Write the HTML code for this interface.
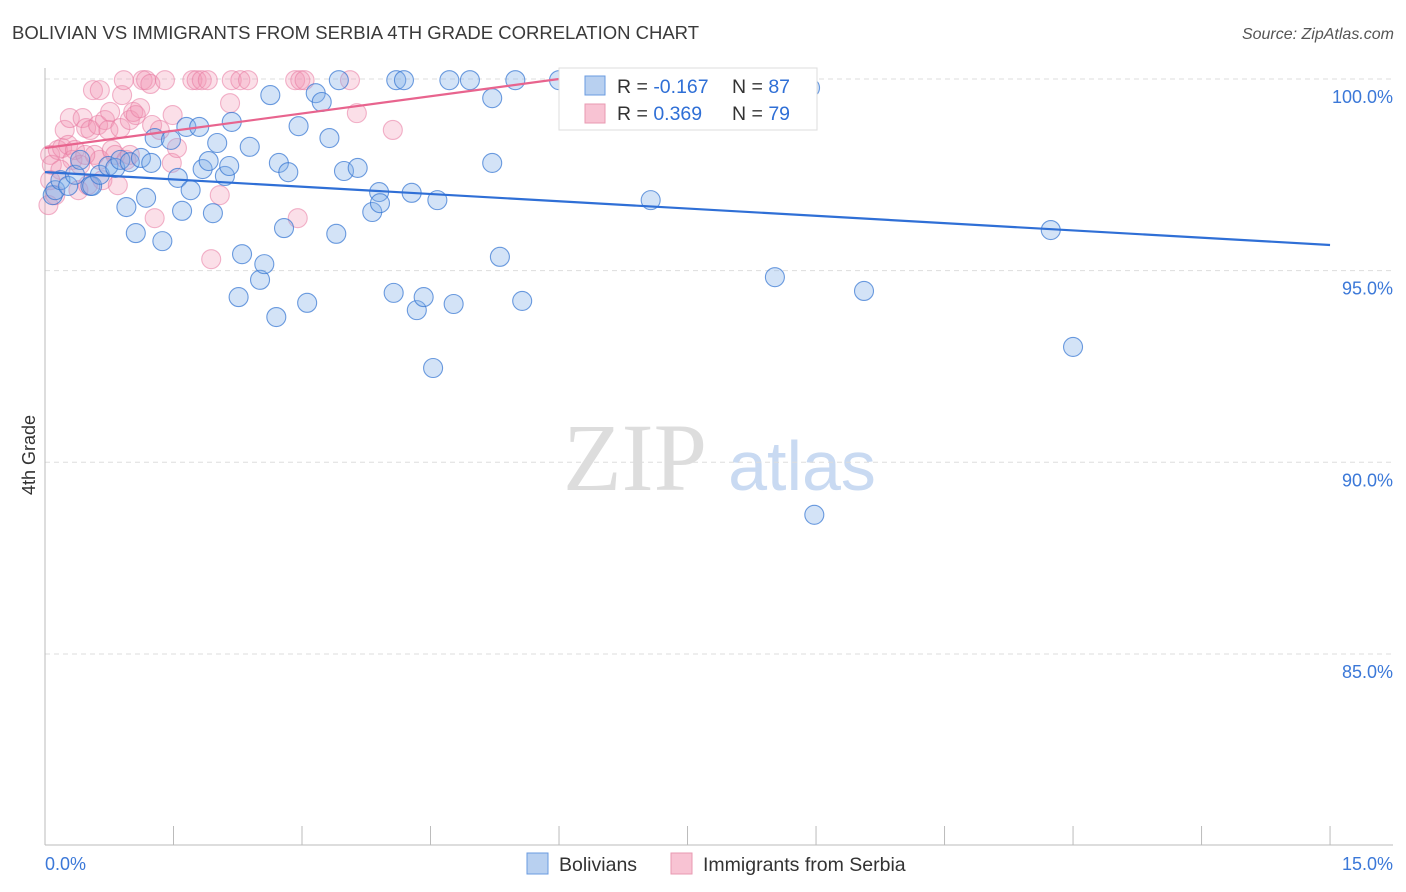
<!DOCTYPE html>
<html><head><meta charset="utf-8"><style>
body{margin:0;background:#fff;font-family:"Liberation Sans",sans-serif}
svg{display:block}
</style></head><body>
<svg id="chart" width="1406" height="892">
<text x="12" y="39" font-size="18.5" fill="#3a3a3a">BOLIVIAN VS IMMIGRANTS FROM SERBIA 4TH GRADE CORRELATION CHART</text>
<text x="1394" y="39" font-size="16" fill="#555" text-anchor="end" font-style="italic">Source: ZipAtlas.com</text>
<text x="35" y="455" font-size="18" fill="#333" text-anchor="middle" transform="rotate(-90 35 455)">4th Grade</text>
<g>
<text x="635" y="490" font-size="96" fill="#ddd" text-anchor="middle" font-family="Liberation Serif,serif">ZIP</text>
<text x="802" y="490" font-size="70" fill="#c9daf2" text-anchor="middle">atlas</text>
</g>
<g id="grid"></g><g id="axes"></g><g id="pts"></g><g id="lines"></g>
<g>
<rect x="559" y="68" width="258" height="62" fill="#fff" stroke="#ddd"/>
<rect x="585" y="76" width="20" height="19" fill="#b8d0f0" stroke="#6a9be0"/>
<rect x="585" y="104" width="20" height="19" fill="#f8c3d3" stroke="#e899b2"/>
<text x="617" y="93" font-size="19.5" fill="#333">R = <tspan fill="#2f6fd6">-0.167</tspan></text>
<text x="732" y="93" font-size="19.5" fill="#333">N = <tspan fill="#2f6fd6">87</tspan></text>
<text x="617" y="120" font-size="19.5" fill="#333">R = <tspan fill="#2f6fd6"> 0.369</tspan></text>
<text x="732" y="120" font-size="19.5" fill="#333">N = <tspan fill="#2f6fd6">79</tspan></text>
</g>
<g>
<rect x="527" y="853" width="21" height="21" fill="#b8d0f0" stroke="#6a9be0"/>
<text x="559" y="871" font-size="19.5" fill="#333">Bolivians</text>
<rect x="671" y="853" width="21" height="21" fill="#f8c3d3" stroke="#e899b2"/>
<text x="703" y="871" font-size="19.5" fill="#333">Immigrants from Serbia</text>
</g>
</svg>
<script>
const yTicks=[100,95,90,85];
const yTickLabels=["100.0%","95.0%","90.0%","85.0%"];
const xTickVals=[0,1.5,3,4.5,6,7.5,9,10.5,12,13.5,15];
const blueX=[0.09,0.12,0.18,0.27,0.35,0.41,0.53,0.55,0.64,0.74,0.82,0.88,0.99,0.95,1.06,1.12,1.18,1.24,1.28,1.37,1.47,1.55,1.60,1.65,1.70,1.80,1.84,1.91,1.96,2.01,2.10,2.15,2.18,2.26,2.30,2.39,2.51,2.56,2.63,2.70,2.73,2.79,2.84,2.96,3.06,3.16,3.23,3.32,3.40,3.43,3.49,3.65,3.82,3.90,3.91,4.07,4.10,4.19,4.28,4.34,4.42,4.53,4.58,4.72,4.77,4.96,5.22,5.22,5.31,5.49,5.57,6.00,6.44,7.07,7.32,8.09,8.52,8.93,8.98,9.56,11.74,12.00];
const blueY=[96.97,97.10,97.36,97.21,97.50,97.89,97.21,97.21,97.50,97.73,97.68,97.89,97.83,96.66,95.98,97.94,96.90,97.81,98.46,95.77,98.41,97.42,96.56,98.75,97.10,98.75,97.65,97.86,96.50,98.33,97.47,97.73,98.88,94.31,95.43,98.23,94.76,95.17,99.58,93.79,97.81,96.11,97.57,98.77,94.16,99.63,99.40,98.46,95.96,99.97,97.60,97.68,96.53,97.05,96.76,94.42,99.97,99.97,97.03,93.97,94.31,92.46,96.84,99.97,94.13,99.97,99.50,97.81,95.36,99.97,94.21,99.97,99.90,96.84,99.97,99.97,94.83,99.77,88.63,94.47,96.06,93.01];
const pinkX=[0.04,0.06,0.08,0.12,0.15,0.20,0.23,0.27,0.29,0.32,0.35,0.39,0.41,0.44,0.48,0.50,0.53,0.56,0.58,0.62,0.64,0.67,0.70,0.74,0.76,0.78,0.82,0.85,0.88,0.90,0.92,0.95,0.99,1.03,1.06,1.11,1.14,1.18,1.23,1.25,1.28,1.34,1.40,1.48,1.49,1.54,1.72,1.77,1.83,1.90,2.04,2.16,2.18,2.28,2.37,2.92,2.98,2.95,3.03,3.56,3.64,4.06,1.94,0.47,0.18,0.64,0.99,0.06,6.83,8.49];
const pinkY=[96.71,98.02,97.76,96.97,98.15,98.20,98.67,98.28,98.98,97.89,98.15,97.10,97.76,98.98,98.72,97.23,98.67,99.71,98.02,98.80,97.89,97.36,98.93,98.67,99.14,98.15,98.02,97.23,98.72,99.58,99.97,97.89,98.93,99.14,99.06,99.24,99.97,99.97,99.87,98.80,96.37,98.67,99.97,97.81,99.06,98.20,99.97,99.97,99.97,99.97,96.97,99.37,99.97,99.97,99.97,99.97,99.97,96.37,99.97,99.97,99.11,98.67,95.30,98.02,97.63,99.71,98.02,97.36,99.97,99.97];
const blueTrend=[[0,97.57],[15,95.67]];
const pinkTrend=[[0,98.2],[6.0,100.0]];

const NS="http://www.w3.org/2000/svg";
const X=v=>45+v*85.67, Y=v=>79+(100-v)*38.33;
function mk(tag,attrs,parent){const e=document.createElementNS(NS,tag);for(const k in attrs)e.setAttribute(k,attrs[k]);parent.appendChild(e);return e;}
const grid=document.getElementById('grid'),axes=document.getElementById('axes'),pts=document.getElementById('pts'),lines=document.getElementById('lines');
yTicks.forEach((t,i)=>{
 const l=mk('line',{x1:45,x2:1393,y1:Y(t),y2:Y(t),stroke:'#ddd','stroke-dasharray':'5,4'},grid);
 
 
 const tx=mk('text',{x:1393,y:Y(t)+24,'font-size':18,fill:'#3b78d8','text-anchor':'end'},axes);
 tx.textContent=yTickLabels[i];
 
 
});
const ya=mk('line',{x1:45,x2:45,y1:68,y2:845,stroke:'#bbb'},axes);


const xa=mk('line',{x1:45,x2:1393,y1:845,y2:845,stroke:'#bbb'},axes);


xTickVals.forEach(v=>{
 const t=mk('line',{x1:X(v),x2:X(v),y1:826,y2:845,stroke:'#bbb'},axes);
 
 
});
const x0=mk('text',{x:45,y:870,'font-size':18,fill:'#3b78d8'},axes);x0.textContent='0.0%';


const x1=mk('text',{x:1393,y:870,'font-size':18,fill:'#3b78d8','text-anchor':'end'},axes);x1.textContent='15.0%';


pinkX.forEach((v,i)=>{
 const c=mk('circle',{cx:X(v),cy:Y(pinkY[i]),r:9.5,fill:'rgba(242,150,180,0.3)',stroke:'rgba(232,120,160,0.55)','stroke-width':1.1},pts);
 
 
});
blueX.forEach((v,i)=>{
 const c=mk('circle',{cx:X(v),cy:Y(blueY[i]),r:9.5,fill:'rgba(130,175,232,0.35)',stroke:'rgba(50,115,210,0.7)','stroke-width':1.1},pts);
 
 
});
const bl=mk('line',{x1:X(blueTrend[0][0]),y1:Y(blueTrend[0][1]),x2:X(blueTrend[1][0]),y2:Y(blueTrend[1][1]),stroke:'#2f6fd6','stroke-width':2.2},lines);


const pl=mk('line',{x1:X(pinkTrend[0][0]),y1:Y(pinkTrend[0][1]),x2:X(pinkTrend[1][0]),y2:Y(pinkTrend[1][1]),stroke:'#e8648e','stroke-width':2.2},lines);


</script>
</body></html>
